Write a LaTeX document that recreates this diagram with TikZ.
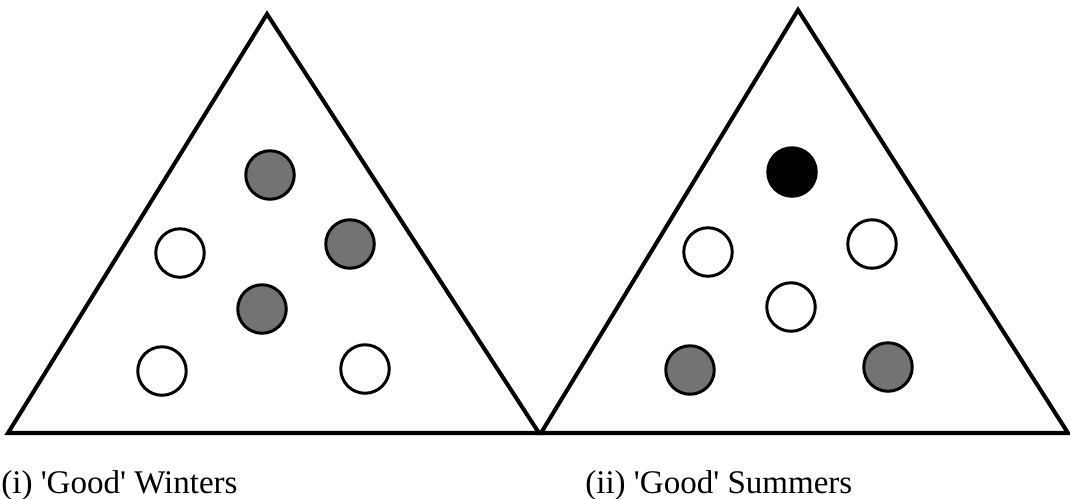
\documentclass[tikz,border=0pt]{standalone}
\usepackage{fontspec}
\setmainfont{Liberation Serif}
\usepackage{tikz}

\begin{document}
\begin{tikzpicture}[x=0.02cm, y=-0.02cm, every node/.style={font=\fontsize{18.8}{22}\selectfont},
	spot/.style={circle, draw=black, line width=1.7pt, minimum size=0.97cm, inner sep=0pt},
	hollow/.style={spot, fill=white},
	dotted spot/.style={spot, fill=black!55},
	dark spot/.style={spot, fill=black},
	tri/.style={draw=black, line width=2.3pt, line join=miter}]
	\useasboundingbox (0,0) rectangle (1070,498);
	% (i) winters
	\coordinate (wtop) at (267,14);
	\coordinate (wleft) at (8,433);
	\coordinate (wright) at (539,433);
	\draw[tri] (wleft) -- (wtop) -- (wright) -- cycle;
	\node[dotted spot] (w1) at (270,175) {};
	\node[dotted spot] (w2) at (350,244) {};
	\node[dotted spot] (w3) at (262,309) {};
	\node[hollow] (w4) at (180,253) {};
	\node[hollow] (w5) at (162,371) {};
	\node[hollow] (w6) at (365,369) {};
	\node[anchor=base west, inner sep=0pt] (wlabel) at (1,493) {(i) \textquotesingle Good\textquotesingle{} Winters};
	% (ii) summers
	\coordinate (stop) at (798,10);
	\coordinate (sleft) at (541,433);
	\coordinate (sright) at (1068,433);
	\draw[tri] (sleft) -- (stop) -- (sright) -- cycle;
	\node[dark spot] (s1) at (792,172) {};
	\node[hollow] (s2) at (708,252) {};
	\node[hollow] (s3) at (872,244) {};
	\node[hollow] (s4) at (791,307) {};
	\node[dotted spot] (s5) at (690,370) {};
	\node[dotted spot] (s6) at (888,367) {};
	\node[anchor=base west, inner sep=0pt] (slabel) at (585,493) {(ii) \textquotesingle Good\textquotesingle{} Summers};
\end{tikzpicture}
\end{document}
